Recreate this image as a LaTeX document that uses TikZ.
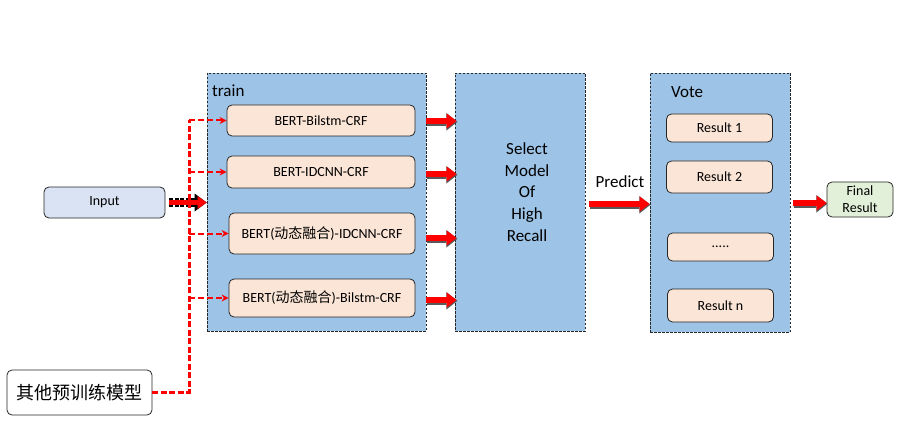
\documentclass[tikz,border=0pt]{standalone}
\usepackage{fontspec}
\setmainfont{Carlito}
\newfontfamily\cjk{Noto Sans CJK SC}
\usetikzlibrary{positioning,arrows.meta}
\definecolor{panelblue}{HTML}{9DC3E6}
\definecolor{modelfill}{HTML}{FBE5D6}
\definecolor{inputfill}{HTML}{DAE3F3}
\definecolor{finalfill}{HTML}{E2F0D9}
\newcommand{\boxfont}{\fontsize{14}{16}\selectfont}
\newcommand{\labfont}{\fontsize{17}{21.7}\selectfont}

\begin{document}
\begin{tikzpicture}[x=1pt,y=-1pt,
		panel/.style={draw=black!85,dash pattern=on 2.5pt off 1.5pt,fill=panelblue,line width=0.8pt,inner sep=0pt},
		modelbox/.style={rectangle,rounded corners=5pt,draw=black!85,fill=modelfill,line width=0.8pt,font=\boxfont,inner sep=2pt},
		resbox/.style={modelbox,minimum width=106pt},
		fatarrow/.style={draw=red,line width=6pt,-{Triangle[length=10pt,width=15pt,line width=0pt]},
			preaction={draw=black!65,line width=7.6pt,transform canvas={shift={(0.8pt,-0.8pt)}},-{Triangle[length=11pt,width=17.5pt,line width=0pt]}}},
		dasharrow/.style={draw=red,line width=5pt,-{Triangle[length=9pt,width=13pt,line width=0pt]},
			preaction={draw=black,line width=9pt,dash pattern=on 4pt off 1.5pt,-{Triangle[length=12pt,width=18pt,line width=0pt]}}},
		redbranch/.style={draw=red,line width=2pt,dash pattern=on 6pt off 3pt,-{Stealth[length=7pt,width=7pt]}},
		redtrunk/.style={draw=red,line width=3pt,dash pattern=on 6pt off 2.5pt}
		]
		\useasboundingbox (0,0) rectangle (913,441);
		% panels
		\node (train) [panel,minimum width=219pt,minimum height=258pt] at (316.5,202) {};
		\node (select) [panel,minimum width=130pt,minimum height=258pt] at (520,202) {};
		\node (vote) [panel,minimum width=140pt,minimum height=259pt] at (720,202.5) {};
		\node (trainlab) [anchor=west,font=\labfont,inner sep=0pt] at (212,91) {train};
		\node (votelab) [anchor=west,font=\labfont,inner sep=0pt] at (671,92) {Vote};
		\node (selectlab) [align=center,font=\labfont] at (527,192) {Select\\Model\\Of\\High\\Recall};
		% models
		\node (m1) [modelbox,minimum width=188pt,minimum height=31pt] at (321,120.5) {BERT-Bilstm-CRF};
		\node (m2) [modelbox,minimum width=188pt,minimum height=32pt] at (321,172) {BERT-IDCNN-CRF};
		\node (m3) [modelbox,minimum width=186pt,minimum height=41pt] at (322,233.5) {BERT({\cjk 动态融合})-IDCNN-CRF};
		\node (m4) [modelbox,minimum width=186pt,minimum height=38pt] at (322,298) {BERT({\cjk 动态融合})-Bilstm-CRF};
		% results
		\node (r1) [resbox,minimum height=28pt] at (719.5,128) {Result 1};
		\node (r2) [resbox,minimum height=32pt] at (719.5,177) {Result 2};
		\node (r3) [resbox,minimum height=28pt] at (720.5,247) {.....};
		\node (r4) [resbox,minimum height=33pt] at (720.5,305.5) {Result n};
		% inputs and output
		\node (input) [modelbox,fill=inputfill,minimum width=121pt,minimum height=31pt] at (104.5,202.5) {Input};
		\node (other) [modelbox,fill=white,font=\cjk\fontsize{18}{20}\selectfont,minimum width=145pt,minimum height=45pt] at (79.5,392.5) {其他预训练模型};
		\node (final) [modelbox,fill=finalfill,align=center,minimum width=66pt,minimum height=35pt,font=\fontsize{14}{17}\selectfont,inner sep=1pt] at (860,199.5) {Final\\Result};
		% arrows
		\draw[dasharrow,shorten <=4pt] (input.east) -- (train.west |- input.east);
		\coordinate (tx) at (189,0);
		\draw[redtrunk] (other.east) -| (tx |- m1.west);
		\foreach \m in {m1,m2,m3,m4}
			\draw[redbranch] (tx |- \m.west) -- (\m.west);
		\foreach \m/\y in {m1/121,m2/174,m3/238,m4/300}
			\draw[fatarrow] (train.east |- 0,\y) -- ([xshift=2pt]select.west |- 0,\y);
		\draw[fatarrow,shorten <=4pt] (select.east |- 0,204) -- (vote.west |- 0,204);
		\node (predict) [font=\labfont] at (620,182) {Predict};
		\draw[fatarrow,shorten <=3pt] (vote.east |- 0,203) -- (final.west |- 0,203);
\end{tikzpicture}
\end{document}
